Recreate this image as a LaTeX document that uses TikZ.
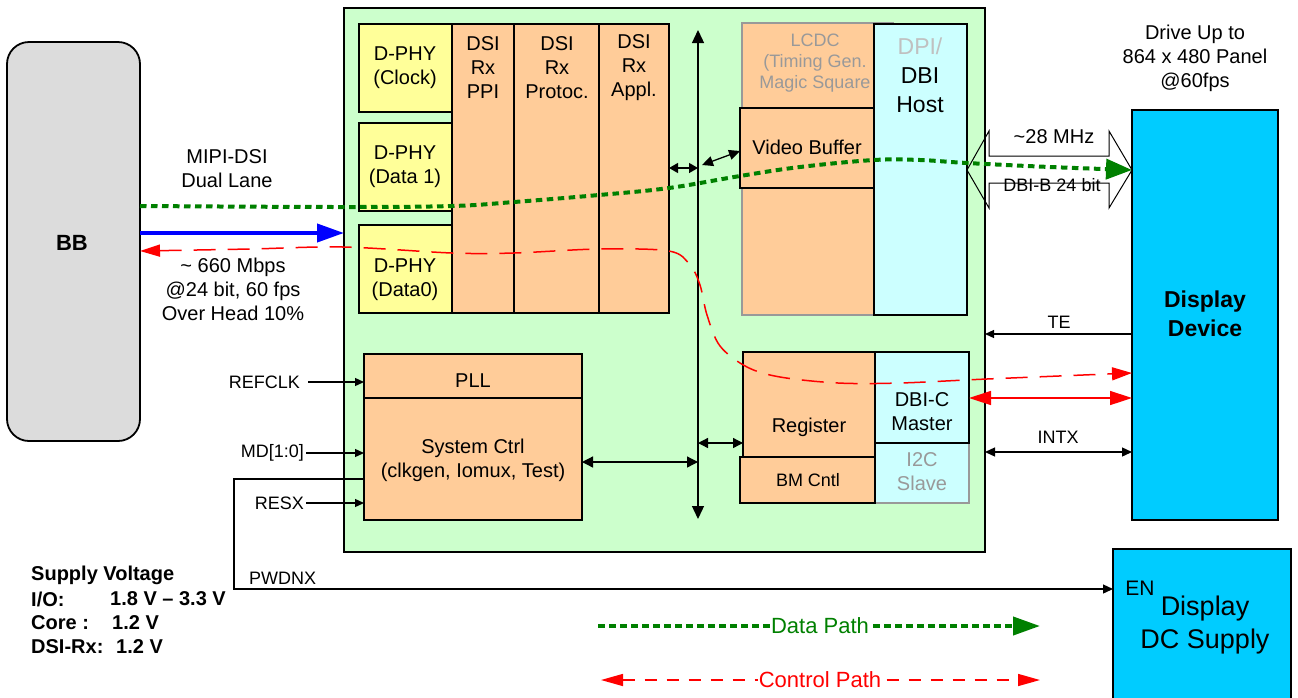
\documentclass[tikz,border=0pt]{standalone}
\usepackage{fontspec}
\setmainfont{Liberation Sans}
\usetikzlibrary{arrows.meta,calc}
\definecolor{chipgreen}{HTML}{CCFFCC}
\definecolor{phyyellow}{HTML}{FFFF99}
\definecolor{blkorange}{HTML}{FFCC99}
\definecolor{hostcyan}{HTML}{CCFFFF}
\definecolor{devblue}{HTML}{00CCFF}
\definecolor{bbgray}{HTML}{DCDCDC}
\definecolor{datagreen}{HTML}{008000}
\definecolor{ghost}{HTML}{999999}
\definecolor{ghostlight}{HTML}{C0C0C0}
\newcommand\mkbox[6]{%
  \pgfmathsetmacro\mkW{#4-#2}\pgfmathsetmacro\mkH{#5-#3}%
  \pgfmathsetmacro\mkX{(#2+#4)/2}\pgfmathsetmacro\mkY{(#3+#5)/2}%
  \node[#6, minimum width=\mkW pt, minimum height=\mkH pt] (#1) at (\mkX,\mkY) {};}
\begin{document}
\begin{tikzpicture}[x=1pt,y=-1pt,
  box/.style={draw=black, line width=1.8pt, inner sep=0pt, outer sep=0pt},
  gbox/.style={draw=ghost, line width=1.8pt, inner sep=0pt, outer sep=0pt},
  txt/.style={font=\fontsize{20}{24}\selectfont, align=center, inner sep=0pt},
  small/.style={font=\fontsize{18}{22}\selectfont, align=center, inner sep=0pt},
  bold/.style={font=\bfseries\fontsize{20}{24}\selectfont, inner sep=0pt, anchor=west},
  conn/.style={line width=1.3pt, -{Triangle[length=9pt,width=8pt]}},
  biconn/.style={line width=1.3pt, {Triangle[length=11pt,width=11pt]}-{Triangle[length=11pt,width=11pt]}},
  datapath/.style={draw=datagreen, line width=4pt, dash pattern=on 6.5pt off 4.5pt},
  ctrlpath/.style={draw=red, line width=1.5pt, dash pattern=on 22pt off 12pt}]
\useasboundingbox[fill=white] (0,0) rectangle (1298,697);

% Baseband
\mkbox{bb}{7}{42}{140}{441}{box, fill=bbgray, rounded corners=22pt}
\node[font=\bfseries\fontsize{22}{26}\selectfont, inner sep=0pt] (bbT) at (72,243) {BB};

% chip
\mkbox{chip}{344}{8}{985}{552}{box, fill=chipgreen}

% D-PHY blocks
\mkbox{phyc}{359}{24}{452}{112}{box, fill=phyyellow}
\mkbox{phyd1}{359}{123}{452}{211}{box, fill=phyyellow}
\mkbox{phyd0}{359}{225}{452}{313}{box, fill=phyyellow}
\node[txt] (phycT) at (405,68) {D-PHY\\(Clock)};
\node[txt] (phyd1T) at (405,167) {D-PHY\\(Data 1)};
\node[txt] (phyd0T) at (405,280) {D-PHY\\(Data0)};

% DSI blocks
\mkbox{ppi}{452}{24}{514}{313}{box, fill=blkorange}
\mkbox{prot}{514}{24}{599}{313}{box, fill=blkorange}
\mkbox{appl}{599}{24}{669}{313}{box, fill=blkorange}
\node[txt] (ppiT) at (483,68) {DSI\\Rx\\PPI};
\node[txt] (protT) at (557,68) {DSI\\Rx\\Protoc.};
\node[txt] (applT) at (634,68) {DSI\\Rx\\Appl.};

% LCDC and host
\mkbox{lcdc}{742}{23}{893}{315}{gbox, fill=blkorange}
\node[font=\fontsize{18}{21}\selectfont, align=center, inner sep=0pt, text=ghost] (lcdcT) at (815,63) {LCDC\\(Timing Gen.\\Magic Square};
\mkbox{dpi}{874}{24}{967}{315}{box, fill=hostcyan}
\node[font=\fontsize{23}{29}\selectfont, align=center, inner sep=0pt] (dpiT) at (920,75) {\textcolor{ghostlight}{DPI/}\\DBI\\Host};
\mkbox{vbuf}{740}{108}{874}{188}{box, fill=blkorange}
\node[txt] (vbufT) at (807,147) {Video Buffer};

% PLL, system control
\mkbox{pll}{364}{354}{582}{398}{box, fill=blkorange}
\node[txt] (pllT) at (473,381) {PLL};
\mkbox{sys}{364}{398}{582}{520}{box, fill=blkorange}
\node[txt] (sysT) at (473,460) {System Ctrl\\(clkgen, Iomux, Test)};

% register area
\mkbox{i2c}{875}{443}{969}{503}{gbox, fill=hostcyan}
\node[txt, text=ghost] (i2cT) at (922,472) {I2C\\Slave};
\mkbox{reg}{743}{352}{875}{457}{box, fill=blkorange}
\node[txt] (regT) at (809,427) {Register};
\mkbox{bm}{740}{457}{875}{503}{box, fill=blkorange}
\node[font=\fontsize{18}{22}\selectfont, inner sep=0pt] (bmT) at (808,480) {BM Cntl};
\mkbox{dbic}{875}{352}{969}{443}{box, fill=hostcyan}
\node[txt] (dbicT) at (922,412) {DBI-C\\Master};

% display device
\mkbox{dev}{1132}{110}{1278}{520}{draw=black, line width=1.3pt, fill=devblue, inner sep=0pt, outer sep=0pt}
\node[font=\bfseries\fontsize{23}{29}\selectfont, align=center, inner sep=0pt] (devT) at (1205,314) {Display\\Device};
\node[txt] (driveT) at (1195,58) {Drive Up to\\864 x 480 Panel\\@60fps};

% DC supply
\mkbox{dcs}{1113}{549}{1291}{720}{draw=black, line width=1.3pt, fill=devblue, inner sep=0pt, outer sep=0pt}
\node[font=\fontsize{21}{24}\selectfont, inner sep=0pt] (enT) at (1140,588) {EN};
\node[font=\fontsize{27}{33}\selectfont, align=center, inner sep=0pt] (dcsT) at (1205,625) {Display\\DC Supply};

% internal bus
\coordinate (busTop) at (698,30);
\coordinate (busBot) at (698,519);
\draw[line width=1.3pt, {Triangle[length=13pt,width=12pt]}-{Triangle[length=13pt,width=12pt]}] (busTop) -- (busBot);
\draw[line width=1.3pt, {Triangle[length=9pt,width=10pt]}-{Triangle[length=9pt,width=10pt]}] (appl.east |- 0,168) -- (busTop |- 0,168);
\draw[line width=1.3pt, {Triangle[length=11pt,width=10pt]}-{Triangle[length=11pt,width=10pt]}] (702,165) -- (vbuf.west |- 0,151);
\draw[biconn] (sys.east |- 0,462) -- (busTop |- 0,462);
\draw[line width=1.3pt, {Triangle[length=10pt,width=10pt]}-{Triangle[length=10pt,width=10pt]}] (busTop |- 0,443) -- (reg.west |- 0,443);

% big hollow arrow
\draw[line width=1pt, line join=miter] (967,170) -- (989,131) -- (989,156) -- (1109,156) -- (1109,131) -- (1132,170) -- (1109,208) -- (1109,183) -- (989,183) -- (989,208) -- cycle;
\node[txt] (mhzT) at (1054,137) {\textasciitilde 28 MHz};
\node[font=\fontsize{18}{22}\selectfont, inner sep=0pt] (dbibT) at (1052,185) {DBI-B 24 bit};

% right side signals
\draw[conn] (dev.west |- 0,334) -- (chip.east |- 0,334);
\node[small] (teT) at (1059,322) {TE};
\draw[line width=1.3pt, {Triangle[length=10pt,width=9pt]}-{Triangle[length=10pt,width=9pt]}] (chip.east |- 0,452) -- (dev.west |- 0,452);
\node[small] (intxT) at (1058,437) {INTX};
\draw[red, line width=1.5pt, {Triangle[length=22pt,width=14pt]}-{Triangle[length=22pt,width=14pt]}] (dbic.east |- 0,398) -- (dev.west |- 0,398);

% left side inputs
\node[small, anchor=east] (refT) at (300,382) {REFCLK};
\draw[conn] (refT.east) ++(8,0) coordinate (refS) -- (pll.west |- refS);
\node[small, anchor=east] (mdT) at (304,453) {MD[1:0]};
\draw[conn] (mdT.east) ++(2,0) coordinate (mdS) -- (sys.west |- mdS);
\node[small, anchor=east] (resT) at (304,503) {RESX};
\draw[conn] (resT.east) ++(2,0) coordinate (resS) -- (sys.west |- resS);
\coordinate (pwA) at (234,479);
\coordinate (pwB) at (234,589);
\draw[line width=1.3pt, -{Triangle[length=10pt,width=9pt]}] (sys.west |- pwA) -- (pwA) -- (pwB) -- (dcs.west |- pwB);
\node[small, anchor=west] (pwT) at (249,578) {PWDNX};

% MIPI labels
\node[txt] (mipiT) at (227,169) {MIPI-DSI\\Dual Lane};
\node[txt] (rateT) at (233,289) {\textasciitilde{} 660 Mbps\\@24 bit, 60 fps\\Over Head 10\%};

% blue clock/data arrow
\draw[blue, line width=4pt, -{Triangle[length=27pt,width=18pt]}] (bb.east |- 0,233) -- (chip.west |- 0,233);

% data path (green dotted)
\draw[datapath, -{Triangle[length=26pt,width=20pt,fill=datagreen]}] plot[smooth, tension=0.6] coordinates {(bb.east |- 0,206) (340,207) (452,206) (514,202) (599,195) (669,188) (740,176) (800,167) (874,160) (920,160) (967,163) (1050,167) (dev.west |- 0,170)};

% control path (red dashed)
\draw[ctrlpath, {Triangle[length=20pt,width=12pt]}-{Triangle[length=20pt,width=13pt]}] plot[smooth, tension=0.55] coordinates {(bb.east |- 0,251) (250,249) (343,247) (452,253) (514,253) (599,249) (669,251) (690,265) (700,285) (707,315) (720,346) (747,367) (780,377) (838,383) (900,383) (987,379) (dev.west |- 0,373)};

% supply voltage
\node[bold] (svT) at (31,575) {Supply Voltage};
\node[bold] (ioT) at (31,599) {I/O:};
\node[bold] (ioV) at (110,599) {1.8 V -- 3.3 V};
\node[bold] (coreT) at (31,623) {Core :};
\node[bold] (coreV) at (112,623) {1.2 V};
\node[bold] (dsiT) at (31,647) {DSI-Rx:};
\node[bold] (dsiV) at (116,647) {1.2 V};

% legend
\coordinate (lgA) at (598,626);
\coordinate (lgB) at (1040,626);
\draw[datapath, -{Triangle[length=27pt,width=18pt,fill=datagreen]}] (lgA) -- (lgB);
\node[font=\fontsize{22}{26}\selectfont, text=datagreen, fill=white, inner sep=1pt] (dataT) at (820,626) {Data Path};
\coordinate (lcA) at (601,680);
\coordinate (lcB) at (1040,680);
\draw[draw=red, line width=1.5pt, dash pattern=on 12pt off 10pt, {Triangle[length=22pt,width=12pt]}-{Triangle[length=22pt,width=12pt]}] (lcA) -- (lcB);
\node[font=\fontsize{22}{26}\selectfont, text=red, fill=white, inner sep=1pt] (ctrlT) at (820,680) {Control Path};
\end{tikzpicture}
\end{document}
